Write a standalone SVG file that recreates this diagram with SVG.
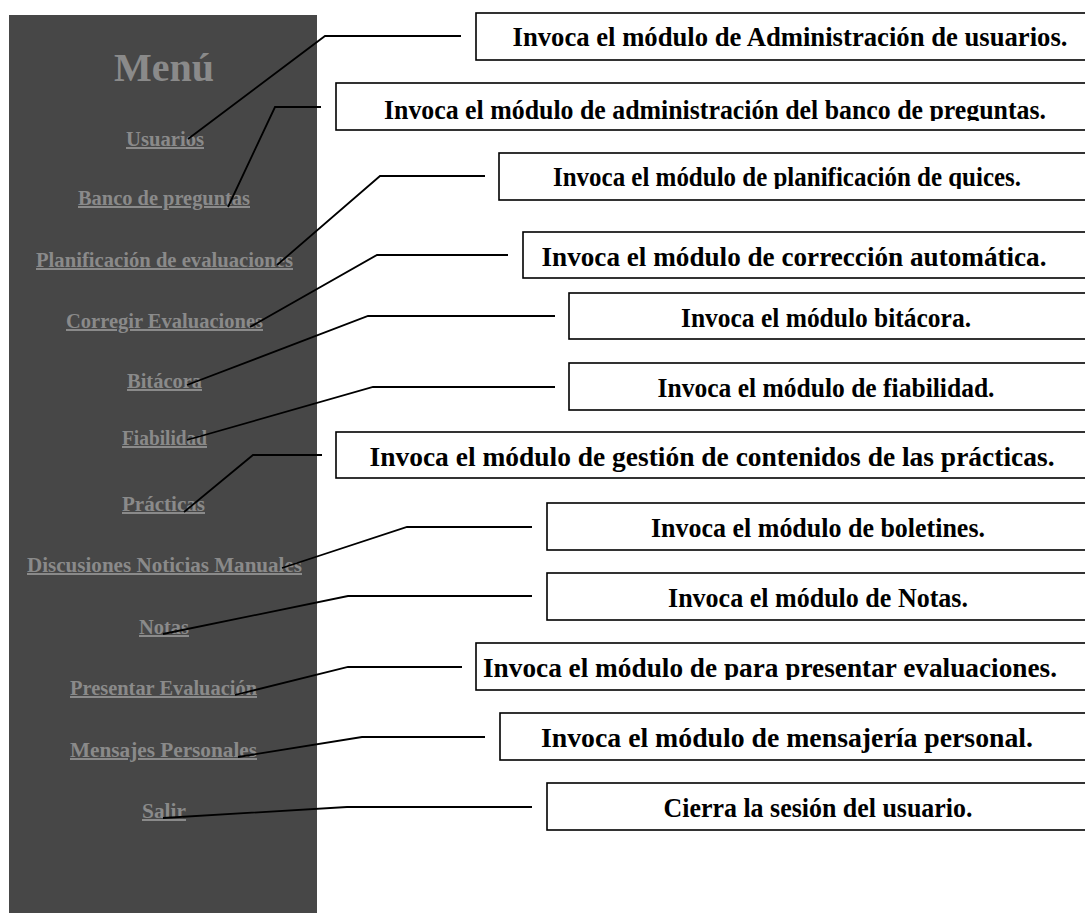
<svg xmlns="http://www.w3.org/2000/svg" width="1085" height="913" viewBox="0 0 1085 913">
<style>
.menu{font-family:"Liberation Serif","Times New Roman",serif;font-weight:bold;fill:#8a8a8a;text-anchor:middle}
.title{font-size:40px}
.item{font-size:20px;text-decoration:underline}
.box{fill:#ffffff;stroke:#000000;stroke-width:1.6}
.lbl{font-family:"Liberation Serif","Times New Roman",serif;font-weight:bold;font-size:27px;fill:#000000;text-anchor:middle}
.conn{fill:none;stroke:#000000;stroke-width:1.8}
</style>
<defs>
<clipPath id="c2"><rect x="336" y="83" width="760" height="38"/></clipPath>
<clipPath id="c3"><rect x="499" y="153" width="600" height="36"/></clipPath>
<clipPath id="c10"><rect x="476" y="643" width="620" height="37"/></clipPath>
</defs>
<rect width="1085" height="913" fill="#ffffff"/>
<g id="menu">
<rect x="9" y="15" width="308" height="898" fill="#474747"/>
<text class="menu title" x="164" y="81">Menú</text>
<text class="menu item" x="165" y="146" textLength="78" lengthAdjust="spacingAndGlyphs">Usuarios</text>
<text class="menu item" x="164" y="205" textLength="172" lengthAdjust="spacingAndGlyphs">Banco de preguntas</text>
<text class="menu item" x="164.5" y="267" textLength="257" lengthAdjust="spacingAndGlyphs">Planificación de evaluaciones</text>
<text class="menu item" x="164.5" y="328" textLength="197" lengthAdjust="spacingAndGlyphs">Corregir Evaluaciones</text>
<text class="menu item" x="164.5" y="388" textLength="75" lengthAdjust="spacingAndGlyphs">Bitácora</text>
<text class="menu item" x="164.5" y="445" textLength="85" lengthAdjust="spacingAndGlyphs">Fiabilidad</text>
<text class="menu item" x="163.5" y="511" textLength="83" lengthAdjust="spacingAndGlyphs">Prácticas</text>
<text class="menu item" x="164.5" y="572" textLength="275" lengthAdjust="spacingAndGlyphs">Discusiones Noticias Manuales</text>
<text class="menu item" x="164" y="634" textLength="50" lengthAdjust="spacingAndGlyphs">Notas</text>
<text class="menu item" x="163.5" y="695" textLength="187" lengthAdjust="spacingAndGlyphs">Presentar Evaluación</text>
<text class="menu item" x="163.5" y="757" textLength="187" lengthAdjust="spacingAndGlyphs">Mensajes Personales</text>
<text class="menu item" x="164" y="818" textLength="44" lengthAdjust="spacingAndGlyphs">Salir</text>
</g>
<g id="connectors">
<polyline class="conn" points="188,139 325,36 461,36"/>
<polyline class="conn" points="228,207 275,107 321,107"/>
<polyline class="conn" points="277,265 380,176 485,176"/>
<polyline class="conn" points="250,327 377,255 508,255"/>
<polyline class="conn" points="187,385 368,316 555,316"/>
<polyline class="conn" points="187,440 373,387 555,387"/>
<polyline class="conn" points="184,512 253,455 322,455"/>
<polyline class="conn" points="282,568 407,527 532,527"/>
<polyline class="conn" points="163,634 348,596 532,596"/>
<polyline class="conn" points="235,695 348,667 462,667"/>
<polyline class="conn" points="238,757 362,737 485,737"/>
<polyline class="conn" points="163,818 347,807 532,807"/>
</g>
<g id="n1"><rect class="box" x="476" y="13" width="620" height="47"/><text class="lbl" x="790" y="46" textLength="555" lengthAdjust="spacingAndGlyphs">Invoca el módulo de Administración de usuarios.</text></g>
<g id="n2"><rect class="box" x="336" y="83" width="760" height="47"/><text class="lbl" x="715" y="119" textLength="662" lengthAdjust="spacingAndGlyphs" clip-path="url(#c2)">Invoca el módulo de administración del banco de preguntas.</text></g>
<g id="n3"><rect class="box" x="499" y="153" width="600" height="47"/><text class="lbl" x="787" y="186" textLength="468" lengthAdjust="spacingAndGlyphs" clip-path="url(#c3)">Invoca el módulo de planificación de quices.</text></g>
<g id="n4"><rect class="box" x="523" y="232" width="580" height="46"/><text class="lbl" x="794" y="266" textLength="505" lengthAdjust="spacingAndGlyphs">Invoca el módulo de corrección automática.</text></g>
<g id="n5"><rect class="box" x="569" y="293" width="530" height="46"/><text class="lbl" x="826" y="327" textLength="290" lengthAdjust="spacingAndGlyphs">Invoca el módulo bitácora.</text></g>
<g id="n6"><rect class="box" x="569" y="363" width="530" height="47"/><text class="lbl" x="826" y="397" textLength="337" lengthAdjust="spacingAndGlyphs">Invoca el módulo de fiabilidad.</text></g>
<g id="n7"><rect class="box" x="336" y="432" width="760" height="46"/><text class="lbl" x="712" y="466" textLength="685" lengthAdjust="spacingAndGlyphs">Invoca el módulo de gestión de contenidos de las prácticas.</text></g>
<g id="n8"><rect class="box" x="547" y="503" width="550" height="47"/><text class="lbl" x="818" y="537" textLength="334" lengthAdjust="spacingAndGlyphs">Invoca el módulo de boletines.</text></g>
<g id="n9"><rect class="box" x="547" y="573" width="550" height="47"/><text class="lbl" x="818" y="607" textLength="300" lengthAdjust="spacingAndGlyphs">Invoca el módulo de Notas.</text></g>
<g id="n10"><rect class="box" x="476" y="643" width="620" height="47"/><text class="lbl" x="770" y="677" textLength="574" lengthAdjust="spacingAndGlyphs" clip-path="url(#c10)">Invoca el módulo de para presentar evaluaciones.</text></g>
<g id="n11"><rect class="box" x="500" y="713" width="600" height="47"/><text class="lbl" x="787" y="747" textLength="492" lengthAdjust="spacingAndGlyphs">Invoca el módulo de mensajería personal.</text></g>
<g id="n12"><rect class="box" x="547" y="783" width="550" height="47"/><text class="lbl" x="818" y="817" textLength="309" lengthAdjust="spacingAndGlyphs">Cierra la sesión del usuario.</text></g>
</svg>
